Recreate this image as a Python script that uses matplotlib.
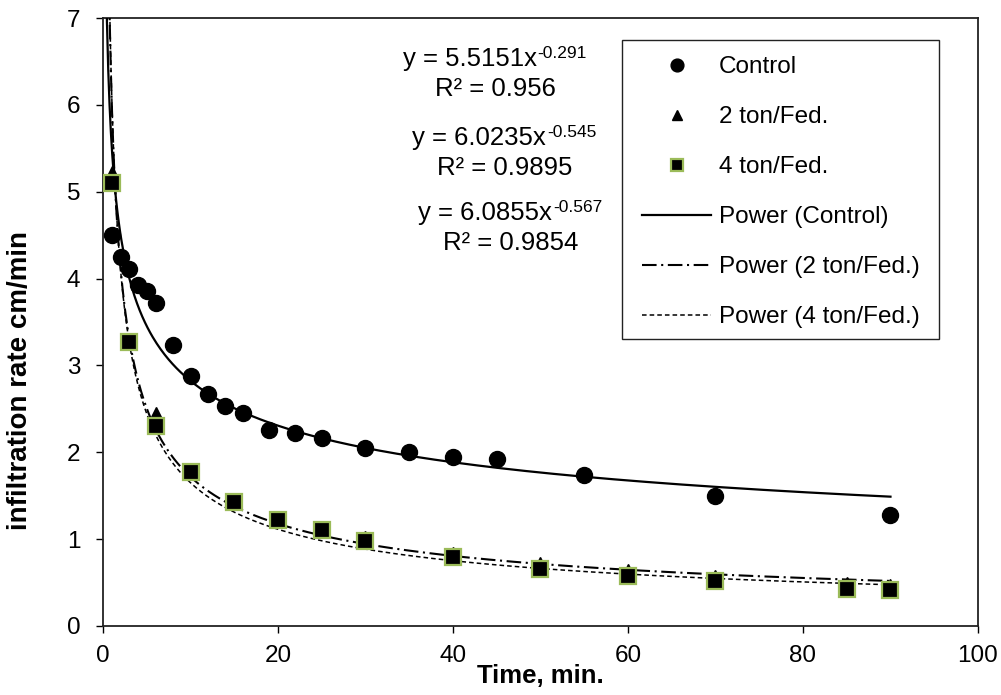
import numpy as np
import matplotlib
matplotlib.use('Agg')
import matplotlib.pyplot as plt
from matplotlib.patches import Rectangle

plt.rcParams['font.family'] = ['Liberation Sans', 'DejaVu Sans']

# dados
t_control = [1, 2, 3, 4, 5, 6, 8, 10, 12, 14, 16, 19, 22, 25, 30, 35, 40, 45, 55, 70, 90]
y_control = [4.50, 4.25, 4.11, 3.93, 3.86, 3.72, 3.23, 2.88, 2.67, 2.53, 2.45, 2.26,
             2.22, 2.17, 2.05, 2.00, 1.95, 1.92, 1.74, 1.50, 1.28]

t_treat = [1, 3, 6, 10, 15, 20, 25, 30, 40, 50, 60, 70, 85, 90]
y_2ton = [5.23, 3.30, 2.45, 1.80, 1.45, 1.25, 1.13, 1.03, 0.84, 0.72, 0.64, 0.57, 0.49, 0.47]
y_4ton = [5.10, 3.27, 2.30, 1.77, 1.43, 1.22, 1.10, 0.98, 0.79, 0.66, 0.58, 0.52, 0.43, 0.42]

# coeficientes das curvas de potencia (y = a * x^b)
coef_a = ['5.5151', '6.0235', '6.0855']
coef_b = ['-0.291', '-0.545', '-0.567']
r2 = ['0.956', '0.9895', '0.9854']

labels = ['Control', '2 ton/Fed.', '4 ton/Fed.']
trend_labels = ['Power (Control)', 'Power (2 ton/Fed.)', 'Power (4 ton/Fed.)']

fig = plt.figure(figsize=(10.01, 6.95), dpi=100)
ax = fig.add_axes([0.1029, 0.0993, 0.8741, 0.8748])

h1, = ax.plot(t_control, y_control, 'o', color='black', ms=11.5, ls='none', zorder=4)
h2, = ax.plot(t_treat, y_2ton, '^', color='black', ms=8.5, ls='none', zorder=4)
h3, = ax.plot(t_treat, y_4ton, 's', mfc='black', mec='#9BBB59', mew=1.6, ms=11.5,
              ls='none', zorder=5)

xx = np.linspace(0.3, 90, 600)
a = [float(v) for v in coef_a]
b = [float(v) for v in coef_b]
l1, = ax.plot(xx, a[0] * xx ** b[0], color='black', lw=1.6, zorder=3)
l2, = ax.plot(xx, a[1] * xx ** b[1], color='black', lw=1.5,
              dashes=(7, 2.2, 1, 2.2), zorder=3)
l3, = ax.plot(xx, a[2] * xx ** b[2], color='black', lw=1.1,
              dashes=(3, 2), zorder=3)

# equacoes (rotulos das linhas de tendencia)
eq_x = [0.419, 0.430, 0.437]
eq_y = [0.921, 0.791, 0.668]
r2_x = [0.448, 0.459, 0.466]
r2_y = [0.872, 0.742, 0.618]
for i in range(3):
    t = ax.text(eq_x[i], eq_y[i], 'y = %sx' % coef_a[i], transform=ax.transAxes,
                ha='center', va='baseline', fontsize=18.5)
    ax.annotate(coef_b[i], xy=(1, 1), xycoords=t, xytext=(0.5, 0.5),
                textcoords='offset points', ha='left', va='top', fontsize=12.5)
    ax.text(r2_x[i], r2_y[i], 'R² = ' + r2[i], transform=ax.transAxes,
            ha='center', va='baseline', fontsize=18.5)

ax.set_xlim(0, 100)
ax.set_ylim(0, 7)
ax.set_xticks(np.arange(0, 101, 20))
ax.set_yticks(np.arange(0, 8, 1))
ax.tick_params(direction='out', length=4.8, width=1, labelsize=17.5)
ax.tick_params(axis='x', pad=9)
ax.tick_params(axis='y', pad=11.5)
for s in ax.spines.values():
    s.set_linewidth(1.3)
    s.set_color('#222222')

ax.set_xlabel('Time, min.', fontsize=18.5, fontweight='bold', labelpad=-2)
ax.set_ylabel('infiltration rate cm/min', fontsize=20, fontweight='bold')
ax.yaxis.set_label_coords(-0.080, 0.403)

leg = ax.legend([h1, h2, h3, l1, l2, l3], labels + trend_labels,
                loc='upper left', bbox_to_anchor=(0.616, 0.937), borderaxespad=0,
                fontsize=17.5, frameon=False, handlelength=2.84,
                handletextpad=0.33, labelspacing=1.15, borderpad=0,
                markerscale=0.8)
ax.add_patch(Rectangle((0.593, 0.472), 0.362, 0.492, transform=ax.transAxes,
                       fill=False, ec='#222222', lw=1.0, zorder=6))

plt.savefig('out.png', dpi=100)
